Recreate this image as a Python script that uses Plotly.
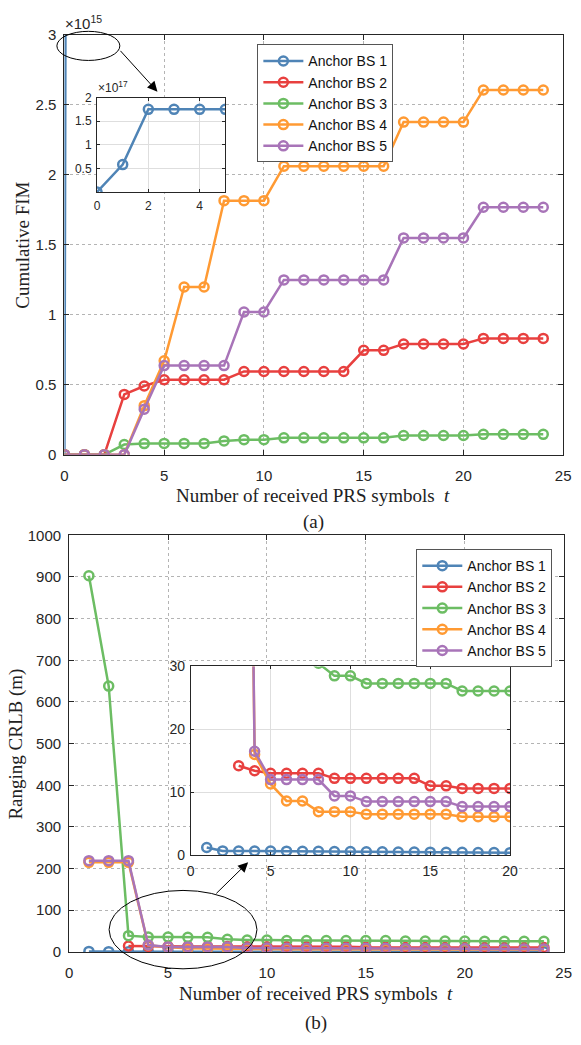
import plotly.graph_objects as go

# ---------------- data ----------------
series_names = ["Anchor BS 1", "Anchor BS 2", "Anchor BS 3", "Anchor BS 4", "Anchor BS 5"]
series_colors = ["#4f84b6", "#e8403f", "#6cbd63", "#ff9a33", "#a874b8"]

# (a) cumulative FIM, in units of 1e15, t = 0..24
t_fim = list(range(25))
fim_bs1 = [0, 58] + [175] * 23
fim_bs2 = [0, 0, 0, 0.43, 0.49, 0.535, 0.535, 0.535, 0.535, 0.594, 0.594, 0.594, 0.594, 0.594, 0.594,
           0.745, 0.745, 0.79, 0.79, 0.79, 0.79, 0.83, 0.83, 0.83, 0.83]
fim_bs3 = [0, 0, 0, 0.072, 0.079, 0.08, 0.08, 0.08, 0.098, 0.107, 0.107, 0.12, 0.12, 0.12, 0.12,
           0.12, 0.12, 0.137, 0.137, 0.137, 0.137, 0.145, 0.145, 0.145, 0.145]
fim_bs4 = [0, 0, 0, 0, 0.35, 0.67, 1.197, 1.197, 1.814, 1.814, 1.814, 2.06, 2.06, 2.06, 2.06,
           2.06, 2.06, 2.375, 2.375, 2.375, 2.375, 2.604, 2.604, 2.604, 2.604]
fim_bs5 = [0, 0, 0, 0, 0.325, 0.636, 0.636, 0.636, 0.636, 1.019, 1.019, 1.248, 1.248, 1.248, 1.248,
           1.248, 1.248, 1.548, 1.548, 1.548, 1.548, 1.767, 1.767, 1.767, 1.767]
fim_series = [fim_bs1, fim_bs2, fim_bs3, fim_bs4, fim_bs5]
fim_inset_len = 6  # t = 0..5 shown in the zoomed view (units of 1e17)

# (b) ranging CRLB in metres
t_crlb = list(range(1, 25))
t_crlb_bs2 = list(range(3, 25))
crlb_bs1 = [1.2, 0.65, 0.64, 0.63, 0.62, 0.61, 0.6, 0.58, 0.56, 0.54, 0.52, 0.5, 0.48, 0.46, 0.45,
            0.44, 0.42, 0.40, 0.38, 0.37, 0.36, 0.35, 0.34, 0.33]
crlb_bs2 = [14.2, 13.4, 13.0, 13.0, 13.0, 13.0, 12.2, 12.2, 12.2, 12.2, 12.2, 12.2, 11.0, 11.0,
            10.6, 10.6, 10.6, 10.6, 10.35, 10.35, 10.35, 10.35]
crlb_bs3 = [903, 638, 39, 35.5, 35.5, 35, 35, 30.5, 28.5, 28.5, 27.3, 27.3, 27.3, 27.3, 27.3, 27.3,
            26.1, 26.1, 26.1, 26.1, 25.5, 25.5, 25.5, 25.5]
crlb_bs4 = [215, 215, 215, 16.0, 11.3, 8.6, 8.6, 6.9, 6.9, 6.9, 6.5, 6.5, 6.5, 6.5, 6.5, 6.5,
            6.1, 6.1, 6.1, 6.1, 5.85, 5.85, 5.85, 5.85]
crlb_bs5 = [219, 219, 219, 16.5, 12.0, 12.0, 12.0, 12.0, 9.4, 9.4, 8.5, 8.5, 8.5, 8.5, 8.5, 8.5,
            7.7, 7.7, 7.7, 7.7, 7.2, 7.2, 7.2, 7.2]
crlb_x = [t_crlb, t_crlb_bs2, t_crlb, t_crlb, t_crlb]
crlb_series = [crlb_bs1, crlb_bs2, crlb_bs3, crlb_bs4, crlb_bs5]
crlb_inset_tmax = 20

# ---------------- figure ----------------
W, H = 581, 1045
SANS = "Arial, Liberation Sans, sans-serif"
SERIF = "Times New Roman, Liberation Serif, serif"
TICK_FONT = dict(family=SANS, size=15, color="#262626")


def px_x(p):
    return p / W


def px_y(p):
    return 1 - p / H


fig = go.Figure()


def line_kw(color, size=9, width=2.5):
    return dict(
        mode="lines+markers",
        line=dict(color=color, width=width),
        marker=dict(symbol="circle-open", size=size, color=color, line=dict(width=width, color=color)),
    )


# (a) main
for name, color, ys in zip(series_names, series_colors, fim_series):
    fig.add_trace(go.Scatter(x=t_fim, y=ys, name=name, xaxis="x", yaxis="y",
                             legend="legend", **line_kw(color)))
# (a) inset: BS 1 over the first symbols
fig.add_trace(go.Scatter(x=t_fim[:fim_inset_len], y=[v / 100 for v in fim_bs1[:fim_inset_len]],
                         xaxis="x2", yaxis="y2", showlegend=False, **line_kw(series_colors[0])))

# (b) main
for name, color, xs, ys in zip(series_names, series_colors, crlb_x, crlb_series):
    fig.add_trace(go.Scatter(x=xs, y=ys, name=name, xaxis="x3", yaxis="y3",
                             legend="legend2", **line_kw(color)))
# (b) inset
for color, xs, ys in zip(series_colors, crlb_x, crlb_series):
    pts = [(x, y) for x, y in zip(xs, ys) if x <= crlb_inset_tmax]
    fig.add_trace(go.Scatter(x=[p[0] for p in pts], y=[p[1] for p in pts], xaxis="x4", yaxis="y4",
                             showlegend=False, **line_kw(color)))

main_axis = dict(
    showline=True, mirror="ticks", linecolor="#262626", linewidth=1,
    ticks="inside", ticklen=5, tickcolor="#262626",
    showgrid=True, gridcolor="#b4b4b4", gridwidth=1, griddash="dot",
    zeroline=False, tickfont=TICK_FONT,
)
inset_axis = dict(
    showline=True, mirror="ticks", linecolor="#262626", linewidth=1,
    ticks="inside", ticklen=3, tickcolor="#262626",
    showgrid=True, gridcolor="#dedede", gridwidth=1,
    zeroline=False,
)

legend_style = dict(
    xanchor="left", yanchor="top", bgcolor="white", bordercolor="#555555", borderwidth=1,
    font=dict(family=SANS, size=14, color="#111"), itemwidth=40, tracegroupgap=0,
)

fig.update_layout(
    width=W, height=H, margin=dict(l=0, r=0, t=0, b=0),
    paper_bgcolor="white", plot_bgcolor="white",
    xaxis=dict(domain=[px_x(61.7), px_x(571)], range=[0, 25], tickvals=[0, 5, 10, 15, 20, 25],
               anchor="y", ticklabelstandoff=7, **main_axis),
    yaxis=dict(domain=[px_y(453), px_y(26)], range=[0, 3], tickvals=[0, 0.5, 1, 1.5, 2, 2.5, 3],
               ticktext=["0", "0.5", "1", "1.5", "2", "2.5", "3"], anchor="x",
               ticklabelstandoff=4, **main_axis),
    xaxis2=dict(domain=[px_x(95), px_x(226)], range=[0, 5], tickvals=[0, 2, 4], anchor="y2",
                tickfont=dict(TICK_FONT, size=12), ticklabelstandoff=3, **inset_axis),
    yaxis2=dict(domain=[px_y(186), px_y(90)], range=[0, 2], tickvals=[0.5, 1, 1.5, 2],
                ticktext=["0.5", "1", "1.5", "2"], anchor="x2",
                tickfont=dict(TICK_FONT, size=12), ticklabelstandoff=2, **inset_axis),
    xaxis3=dict(domain=[px_x(66.5), px_x(571.5)], range=[0, 25], tickvals=[0, 5, 10, 15, 20, 25],
                anchor="y3", ticklabelstandoff=7, **main_axis),
    yaxis3=dict(domain=[px_y(958.5), px_y(535)], range=[0, 1000], tickvals=list(range(0, 1001, 100)),
                anchor="x3", ticklabelstandoff=4, **main_axis),
    xaxis4=dict(domain=[px_x(190.7), px_x(516.7)], range=[0, 20], tickvals=[0, 5, 10, 15, 20],
                anchor="y4", tickfont=dict(TICK_FONT, size=14), ticklabelstandoff=3, **inset_axis),
    yaxis4=dict(domain=[px_y(860), px_y(668.3)], range=[0, 30], tickvals=[0, 10, 20, 30],
                anchor="x4", tickfont=dict(TICK_FONT, size=14), ticklabelstandoff=2, **inset_axis),
    legend=dict(x=px_x(258.7), y=px_y(36), **legend_style),
    legend2=dict(x=px_x(421), y=px_y(549), **legend_style),
    showlegend=True,
)

# zoom indicators: ellipses with arrows pointing at the insets
fig.add_shape(type="circle", xref="paper", yref="paper",
              x0=px_x(54), x1=px_x(118.3), y0=px_y(52.3), y1=px_y(22.7),
              line=dict(color="black", width=1), layer="above")
fig.add_shape(type="circle", xref="paper", yref="paper",
              x0=px_x(107.3), x1=px_x(258.3), y0=px_y(975.7), y1=px_y(896),
              line=dict(color="black", width=1), layer="above")
fig.add_annotation(xref="paper", yref="paper", x=px_x(156.7), y=px_y(84), ax=-38.4, ay=-42.3,
                   text="", showarrow=True, arrowhead=2, arrowsize=2, arrowwidth=1, arrowcolor="black")
fig.add_annotation(xref="paper", yref="paper", x=px_x(249.3), y=px_y(867.3), ax=-33.3, ay=32.7,
                   text="", showarrow=True, arrowhead=2, arrowsize=2, arrowwidth=1, arrowcolor="black")

# axis multipliers
fig.add_annotation(xref="paper", yref="paper", x=px_x(60), y=px_y(25), xanchor="left", yanchor="bottom",
                   text="×10<sup>15</sup>", showarrow=False,
                   font=dict(family=SANS, size=15, color="#262626"))
fig.add_annotation(xref="paper", yref="paper", x=px_x(94), y=px_y(89), xanchor="left", yanchor="bottom",
                   text="×10<sup>17</sup>", showarrow=False,
                   font=dict(family=SANS, size=12, color="#262626"))

# axis titles and panel labels (centred on their anchor points)
title_font = dict(family=SERIF, size=19, color="#222222")
x_title = "Number of received PRS symbols  <i>t</i>"
centred = dict(xref="paper", yref="paper", xanchor="center", yanchor="middle",
               showarrow=False, font=title_font)
fig.add_annotation(x=px_x(316), y=px_y(495), text=x_title, **centred)
fig.add_annotation(x=px_x(319), y=px_y(1001), text=x_title, **centred)
fig.add_annotation(x=px_x(316), y=px_y(521), text="(a)", **centred)
fig.add_annotation(x=px_x(319), y=px_y(1031), text="(b)", **centred)
fig.add_annotation(x=px_x(18), y=px_y(240), text="Cumulative FIM", textangle=-90, **centred)
fig.add_annotation(x=px_x(12), y=px_y(747), text="Ranging CRLB (m)", textangle=-90, **centred)

# the figure fills the page edge to edge
fig.write_html("out.html", post_script="document.body.style.margin='0';")
